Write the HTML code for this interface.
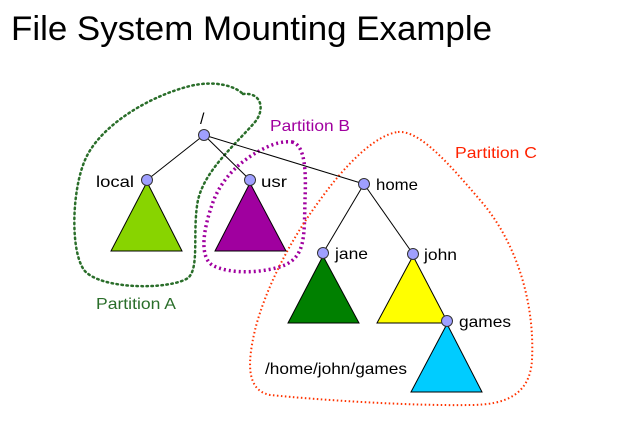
<!DOCTYPE html>
<html><head><style>
html,body{margin:0;padding:0;background:#fff;width:643px;height:437px;overflow:hidden}
svg{display:block}
text{font-family:"Liberation Sans",Arial,sans-serif}
</style></head><body>
<svg width="643" height="437" viewBox="0 0 643 437">
<text x="11" y="40" font-size="34" fill="#000" textLength="481" lengthAdjust="spacingAndGlyphs">File System Mounting Example</text>
<!-- Partition A -->
<path d="M243,94 C262,92 265,110 255,122 C235,145 205,170 198,200 C192,230 200,268 188,278 C170,290 100,290 84,270 C70,250 72,190 85,160 C100,125 150,96 190,86 C215,80 235,86 243,94 Z" fill="none" stroke="#2a6e2a" stroke-width="2.5" stroke-dasharray="1.5 3.5" stroke-linecap="round"/>
<!-- Partition B -->
<path d="M292,142 C306,145 306,175 305,200 C304,235 306,255 285,265 C265,273 230,275 212,265 C198,255 205,225 212,205 C220,180 240,160 265,148 C275,143 285,141 292,142 Z" fill="none" stroke="#a0009f" stroke-width="3.5" stroke-dasharray="2 3" />
<!-- Partition C -->
<path d="M398,132 C420,130 450,165 480,200 C515,240 535,300 532,360 C530,395 505,405 470,405 C410,406 320,400 270,395 C245,390 248,360 255,330 C265,290 290,240 320,200 C345,165 375,135 398,132 Z" fill="none" stroke="#ff3300" stroke-width="2" stroke-dasharray="1.5 2.5"/>
<g font-size="16">
<text x="270" y="131" fill="#a0009f" textLength="80" lengthAdjust="spacingAndGlyphs">Partition B</text>
<text x="455" y="158" fill="#ff2200" textLength="82" lengthAdjust="spacingAndGlyphs">Partition C</text>
<text x="96" y="309" fill="#2a6e2a" textLength="80" lengthAdjust="spacingAndGlyphs">Partition A</text>
</g>
<!-- edges -->
<g stroke="#000" stroke-width="1">
<line x1="204" y1="135" x2="147" y2="180"/>
<line x1="204" y1="135" x2="250" y2="180"/>
<line x1="204" y1="135" x2="364" y2="184"/>
<line x1="364" y1="184" x2="323" y2="253"/>
<line x1="364" y1="184" x2="413" y2="254"/>
</g>
<!-- triangles -->
<g stroke="#000" stroke-width="1">
<polygon points="147,182 182,251 111,251" fill="#88d400"/>
<polygon points="250,183 286,251 215,251" fill="#a0009f"/>
<polygon points="323,256 359,323 288,323" fill="#008000"/>
<polygon points="413,256 448,323 377,323" fill="#ffff00"/>
<polygon points="447,324 482,392 411,392" fill="#00ccff"/>
</g>
<!-- nodes -->
<g fill="#9f9fff" stroke="#333" stroke-width="1">
<circle cx="204" cy="135" r="5.5"/>
<circle cx="147" cy="180" r="5.5"/>
<circle cx="250" cy="180" r="5.5"/>
<circle cx="364" cy="184" r="5.5"/>
<circle cx="323" cy="253" r="5.5"/>
<circle cx="413" cy="254" r="5.5"/>
<circle cx="447" cy="321" r="5.5"/>
</g>
<g font-size="16" fill="#000">
<text x="200" y="124">/</text>
<text x="96" y="187" textLength="38" lengthAdjust="spacingAndGlyphs">local</text>
<text x="261" y="187" textLength="26" lengthAdjust="spacingAndGlyphs">usr</text>
<text x="376" y="190" textLength="42" lengthAdjust="spacingAndGlyphs">home</text>
<text x="335" y="259" textLength="33" lengthAdjust="spacingAndGlyphs">jane</text>
<text x="424" y="260" textLength="33" lengthAdjust="spacingAndGlyphs">john</text>
<text x="459" y="327" textLength="52" lengthAdjust="spacingAndGlyphs">games</text>
<text x="265" y="374" textLength="142" lengthAdjust="spacingAndGlyphs">/home/john/games</text>
</g>
</svg>
</body></html>
